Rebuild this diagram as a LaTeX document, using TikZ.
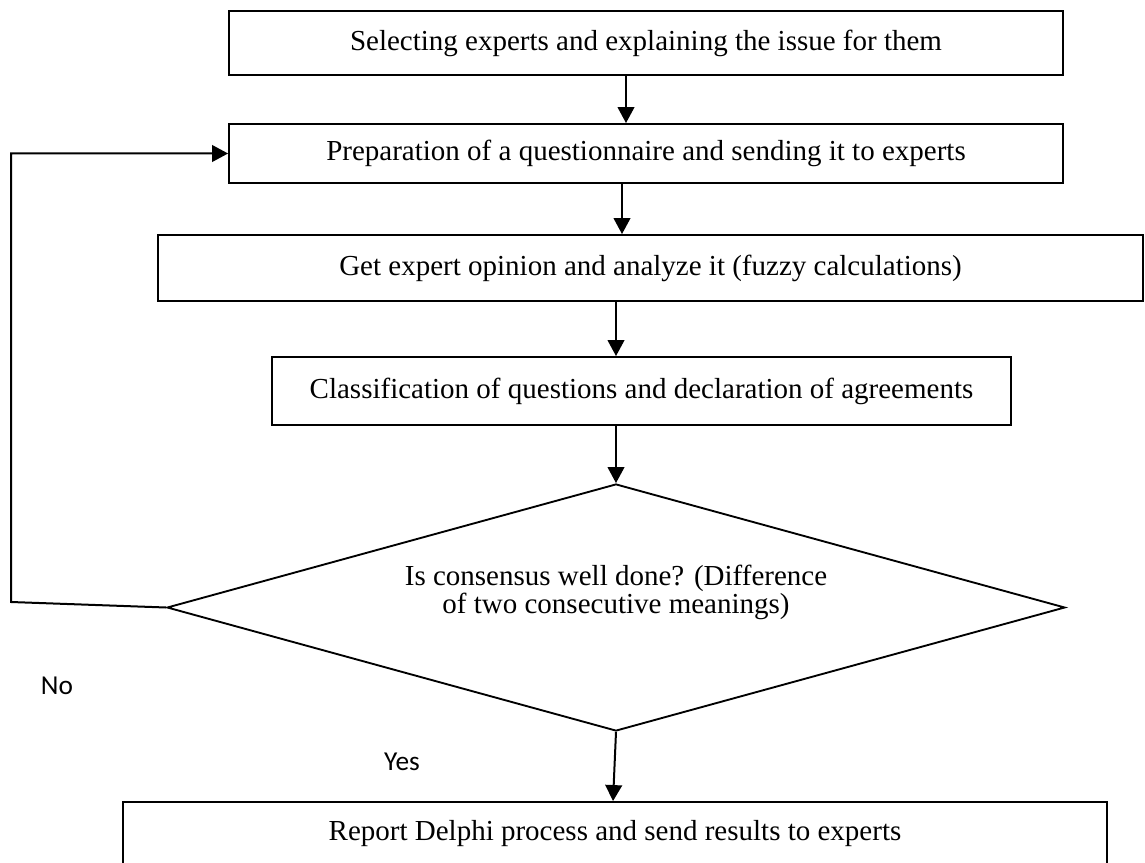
\documentclass[tikz,border=0pt]{standalone}
\usepackage{fontspec}
\setmainfont{Liberation Serif}
\newfontfamily\calibrifont{Carlito}
\usetikzlibrary{arrows.meta,shapes.geometric}
\begin{document}
\begin{tikzpicture}[x=0.75pt,y=-0.75pt,
  box/.style={draw,line width=1.4pt,inner sep=0pt,font=\fontsize{21.75}{21}\selectfont},
  arr/.style={line width=1.5pt,-{Triangle[length=12pt,width=12.5pt]}},
  lbl/.style={font=\calibrifont\fontsize{20.5}{24}\selectfont}]
\useasboundingbox (0,0) rectangle (1145,863);
\clip (0,0) rectangle (1145,863);
\fill[white] (0,0) rectangle (1145,863);
\node[box,minimum width=834*0.75pt,minimum height=64*0.75pt] (b1) at (646,43) {Selecting experts and explaining the issue for them};
\node[box,minimum width=834*0.75pt,minimum height=59*0.75pt] (b2) at (646,153.5) {Preparation of a questionnaire and sending it to experts};
\node[box,minimum width=985*0.75pt,minimum height=66*0.75pt] (b3) at (650.5,268) {Get expert opinion and analyze it (fuzzy calculations)};
\node[box,minimum width=739*0.75pt,minimum height=68*0.75pt] (b4) at (641.5,391) {Classification of questions and declaration of agreements};
\node[draw,line width=1.4pt,diamond,inner sep=0pt,minimum width=898*0.75pt,minimum height=247*0.75pt] (dec) at (616,607.5) {};
\node[font=\fontsize{21.75}{21}\selectfont,align=center,inner sep=0pt] (dectext) at (616,592) {Is consensus well done? (Difference\\of two consecutive meanings)};
\node[box,minimum width=984*0.75pt,minimum height=64*0.75pt] (b5) at (615,834) {Report Delphi process and send results to experts};
\coordinate (x1) at (626,0);
\coordinate (x2) at (622,0);
\coordinate (x3) at (616,0);
\coordinate (x4) at (613,0);
\coordinate (fb) at (11,602);
\draw[arr] (b1.south -| x1) -- (b2.north -| x1);
\draw[arr] (b2.south -| x2) -- (b3.north -| x2);
\draw[arr] (b3.south -| x3) -- (b4.north -| x3);
\draw[arr] (b4.south -| dec.north) -- (dec.north);
\draw[arr] (dec.south) -- (b5.north -| x4);
\draw[arr] (dec.west) -- (fb) |- (b2.west);
\node[lbl] (no) at (57,686) {No};
\node[lbl] (yes) at (402,762) {Yes};
\end{tikzpicture}
\end{document}
